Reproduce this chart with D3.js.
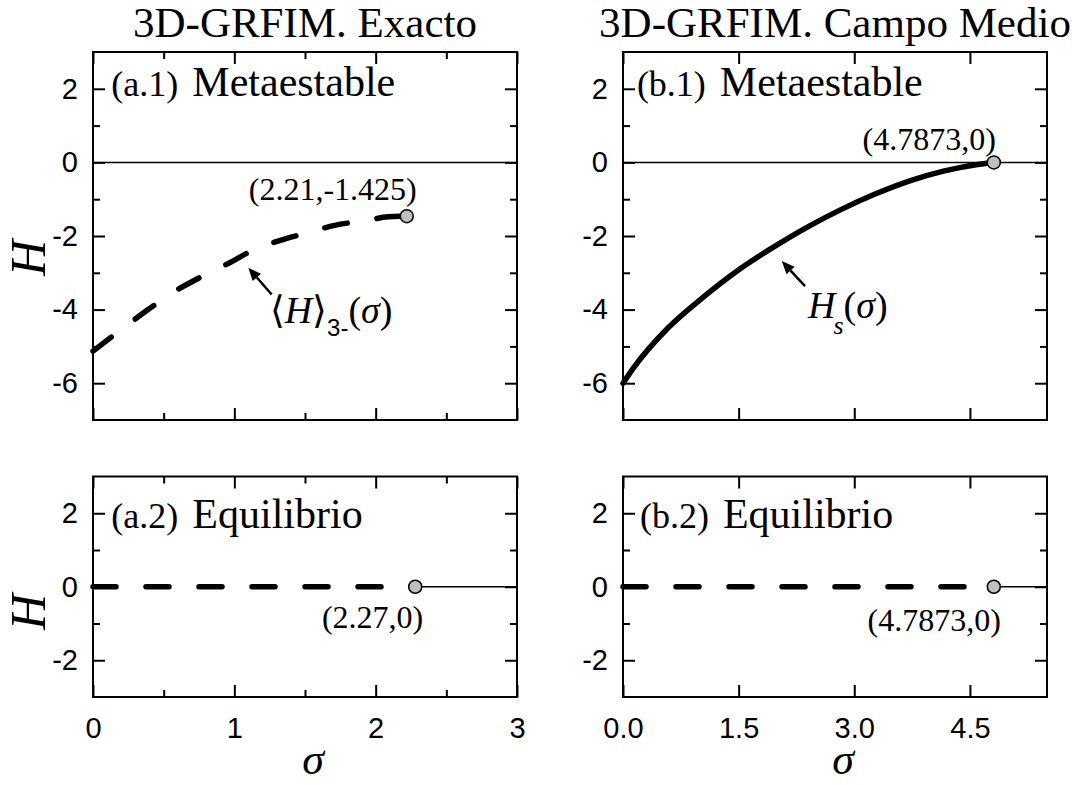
<!DOCTYPE html>
<html lang="es">
<head>
<meta charset="UTF-8">
<title>3D-GRFIM</title>
<script src="https://d3js.org/d3.v7.min.js"></script>
<style>
  body { margin: 0; background: #fff; }
  svg { display: block; }
  .serif { font-family: "Liberation Serif", "Times New Roman", serif; fill: #000; }
  .tick text { font-family: "Liberation Sans", Arial, sans-serif; font-size: 29px; fill: #000; }
  .tick line { stroke: #000; stroke-width: 2px; }
</style>
</head>
<body>
<svg width="1072" height="785"></svg>
<script>
// ---- values ----
// (a.1) exact, metastable branch <H>_3-(sigma)
const exactSigma = [0, 0.2, 0.39, 0.58, 0.76, 0.97, 1.13, 1.35, 1.52, 1.71, 1.91, 2.09, 2.22];
const exactH     = [-5.13, -4.54, -4.0, -3.5, -3.12, -2.72, -2.39, -2.09, -1.91, -1.71, -1.59, -1.48, -1.46];
// (b.1) mean field, spinodal H_s(sigma)
const mfSigma = [0, 0.134, 0.583, 1.03, 1.48, 1.93, 2.38, 2.82, 3.27, 3.72, 4.17, 4.62, 4.81];
const mfH     = [-6.0, -5.59, -4.5, -3.68, -2.95, -2.33, -1.77, -1.29, -0.86, -0.5, -0.23, -0.05, 0];
// end points (grey circles) and their labels: a.1, b.1, a.2, b.2
const endSigma  = [2.22, 4.81, 2.28, 4.81];
const endH      = [-1.46, 0, 0, 0];
const endLabels = ["(2.21,-1.425)", "(4.7873,0)", "(2.27,0)", "(4.7873,0)"];
// ticks
const xTicksExact = [0, 1, 2, 3];
const xMinorExact = [0.5, 1.5, 2.5];
const xTicksMF    = [0, 1.5, 3, 4.5];
const yTicksTop    = [-6, -4, -2, 0, 2];
const yMinorTop    = [-5, -3, -1, 1];
const yTicksBottom = [-2, 0, 2];
const yMinorBottom = [-1, 1];
const titles = ["3D-GRFIM. Exacto", "3D-GRFIM. Campo Medio"];

const svg = d3.select("svg");
const cols = [[93, 517], [623, 1047]];
const rows = [[52, 420], [476.5, 697]];
const xDomains = [[0, 3], [0, 5.5]];
const yDomains = [[-7, 3], [-3, 3]];

function makePanel(c, r) {
  const x = d3.scaleLinear().domain(xDomains[c]).range(cols[c]);
  const y = d3.scaleLinear().domain(yDomains[r]).range([rows[r][1], rows[r][0]]);
  const g = svg.append("g");
  const yMaj = r === 0 ? yTicksTop : yTicksBottom;
  const yMin = r === 0 ? yMinorTop : yMinorBottom;
  const xMaj = c === 0 ? xTicksExact : xTicksMF;
  const xMin = c === 0 ? xMinorExact : [];
  const noDomain = s => s.select(".domain").remove();

  g.append("g").attr("transform", `translate(${cols[c][0]},0)`)
    .call(d3.axisLeft(y).tickValues(yMaj).tickSize(-12).tickPadding(15).tickFormat(d => String(d))).call(noDomain);
  g.append("g").attr("transform", `translate(${cols[c][0]},0)`)
    .call(d3.axisLeft(y).tickValues(yMin).tickSize(-7).tickFormat("")).call(noDomain);
  g.append("g").attr("transform", `translate(${cols[c][1]},0)`)
    .call(d3.axisRight(y).tickValues(yMaj).tickSize(-12).tickFormat("")).call(noDomain);
  g.append("g").attr("transform", `translate(${cols[c][1]},0)`)
    .call(d3.axisRight(y).tickValues(yMin).tickSize(-7).tickFormat("")).call(noDomain);

  const fmt = c === 0 ? d => String(d) : d3.format(".1f");
  g.append("g").attr("transform", `translate(0,${rows[r][1]})`)
    .call(d3.axisBottom(x).tickValues(xMaj).tickSize(-12).tickPadding(20).tickFormat(r === 1 ? fmt : "")).call(noDomain);
  g.append("g").attr("transform", `translate(0,${rows[r][1]})`)
    .call(d3.axisBottom(x).tickValues(xMin).tickSize(-7).tickFormat("")).call(noDomain);
  g.append("g").attr("transform", `translate(0,${rows[r][0]})`)
    .call(d3.axisTop(x).tickValues(xMaj).tickSize(-12).tickFormat("")).call(noDomain);
  g.append("g").attr("transform", `translate(0,${rows[r][0]})`)
    .call(d3.axisTop(x).tickValues(xMin).tickSize(-7).tickFormat("")).call(noDomain);

  g.append("rect")
    .attr("x", cols[c][0]).attr("y", rows[r][0])
    .attr("width", cols[c][1] - cols[c][0]).attr("height", rows[r][1] - rows[r][0])
    .attr("fill", "none").attr("stroke", "#000").attr("stroke-width", 2);

  return { g, x, y };
}

const line = (x, y) => d3.line().x(d => x(d[0])).y(d => y(d[1]));
const dash = "23,30";

function endPoint(p, i, dx, dy) {
  p.g.append("circle")
    .attr("cx", p.x(endSigma[i])).attr("cy", p.y(endH[i])).attr("r", 6.5)
    .attr("fill", "#c0c0c0").attr("stroke", "#000").attr("stroke-width", 1.5);
  p.g.append("text").attr("class", "serif")
    .attr("x", p.x(endSigma[i]) + dx).attr("y", p.y(endH[i]) + dy)
    .attr("text-anchor", "end").attr("font-size", 32)
    .text(endLabels[i]);
}

function arrow(p, from, to) {
  const x1 = p.x(from[0]), y1 = p.y(from[1]), x2 = p.x(to[0]), y2 = p.y(to[1]);
  const a = Math.atan2(y2 - y1, x2 - x1), L = 13, W = 5.5;
  const bx = x2 - L * Math.cos(a), by = y2 - L * Math.sin(a);
  p.g.append("line").attr("x1", x1).attr("y1", y1).attr("x2", bx).attr("y2", by)
    .attr("stroke", "#000").attr("stroke-width", 2.5);
  p.g.append("path")
    .attr("d", `M${x2},${y2}L${bx - W * Math.sin(a)},${by + W * Math.cos(a)}L${bx + W * Math.sin(a)},${by - W * Math.cos(a)}Z`)
    .attr("fill", "#000");
}

function panelLabel(p, s, h, tag, word) {
  const t = p.g.append("text").attr("class", "serif")
    .attr("x", p.x(s)).attr("y", p.y(h));
  t.append("tspan").attr("font-size", 36).text(tag);
  t.append("tspan").attr("font-size", 42).attr("dx", 14).text(word);
}

// ---- (a.1) ----
const a1 = makePanel(0, 0);
a1.g.append("line").attr("x1", a1.x(0)).attr("x2", a1.x(3)).attr("y1", a1.y(0)).attr("y2", a1.y(0))
  .attr("stroke", "#000").attr("stroke-width", 1.5);
a1.g.append("path").datum(d3.zip(exactSigma, exactH))
  .attr("d", line(a1.x, a1.y).curve(d3.curveMonotoneX))
  .attr("fill", "none").attr("stroke", "#000").attr("stroke-width", 5.5)
  .attr("stroke-linecap", "round").attr("stroke-dasharray", dash);
endPoint(a1, 0, 10, -16);
arrow(a1, [1.264, -3.59], [1.099, -2.86]);
{
  const t = a1.g.append("text").attr("class", "serif").attr("font-size", 38)
    .attr("x", a1.x(1.25)).attr("y", a1.y(-4.36));
  t.append("tspan").text("\u27E8");
  t.append("tspan").attr("font-style", "italic").text("H");
  t.append("tspan").text("\u27E9");
  t.append("tspan").attr("dy", 13).attr("font-size", 24)
    .attr("font-family", "Liberation Sans, Arial, sans-serif").text("3-");
  t.append("tspan").attr("dy", -13).text("(");
  t.append("tspan").attr("font-style", "italic").text("\u03C3");
  t.append("tspan").text(")");
}
panelLabel(a1, 0.13, 1.8, "(a.1)", "Metaestable");

// ---- (b.1) ----
const b1 = makePanel(1, 0);
b1.g.append("line").attr("x1", b1.x(0)).attr("x2", b1.x(5.5)).attr("y1", b1.y(0)).attr("y2", b1.y(0))
  .attr("stroke", "#000").attr("stroke-width", 1.5);
b1.g.append("path").datum(d3.zip(mfSigma, mfH))
  .attr("d", line(b1.x, b1.y).curve(d3.curveMonotoneX))
  .attr("fill", "none").attr("stroke", "#000").attr("stroke-width", 5.5)
  .attr("stroke-linecap", "round");
endPoint(b1, 1, 2, -12);
arrow(b1, [2.361, -3.36], [2.059, -2.68]);
{
  const t = b1.g.append("text").attr("class", "serif").attr("font-size", 38)
    .attr("x", b1.x(2.4)).attr("y", b1.y(-4.23));
  t.append("tspan").attr("font-style", "italic").text("H");
  t.append("tspan").attr("dy", 16).attr("dx", -2).attr("font-size", 26).attr("font-style", "italic").text("s");
  t.append("tspan").attr("dy", -16).text("(");
  t.append("tspan").attr("font-style", "italic").text("\u03C3");
  t.append("tspan").text(")");
}
panelLabel(b1, 0.18, 1.8, "(b.1)", "Metaestable");

// ---- (a.2) and (b.2) ----
[[0, 2], [1, 3]].forEach(([c, i]) => {
  const p = makePanel(c, 1);
  const xEnd = xDomains[c][1];
  p.g.append("path").datum([[0, 0], [endSigma[i], 0]])
    .attr("d", line(p.x, p.y))
    .attr("fill", "none").attr("stroke", "#000").attr("stroke-width", 5.5)
    .attr("stroke-linecap", "round").attr("stroke-dasharray", dash);
  p.g.append("path").datum([[endSigma[i], 0], [xEnd, 0]])
    .attr("d", line(p.x, p.y))
    .attr("fill", "none").attr("stroke", "#000").attr("stroke-width", 1.5);
  endPoint(p, i, c === 0 ? 8 : 7, c === 0 ? 41 : 44);
  panelLabel(p, c === 0 ? 0.13 : 0.22, 1.6, c === 0 ? "(a.2)" : "(b.2)", "Equilibrio");
});

// ---- titles and axis names ----
cols.forEach((cx, c) => {
  svg.append("text").attr("class", "serif")
    .attr("x", (cx[0] + cx[1]) / 2).attr("y", 37)
    .attr("text-anchor", "middle").attr("font-size", 43)
    .text(titles[c]);
  svg.append("text").attr("class", "serif")
    .attr("x", (cx[0] + cx[1]) / 2 + 8).attr("y", 774)
    .attr("text-anchor", "middle").attr("font-size", 44).attr("font-style", "italic")
    .text("\u03C3");
});
[258, 612].forEach(cy => {
  svg.append("text").attr("class", "serif")
    .attr("transform", `translate(45,${cy}) rotate(-90)`)
    .attr("text-anchor", "middle").attr("font-size", 50).attr("font-style", "italic")
    .text("H");
});
</script>
</body>
</html>
